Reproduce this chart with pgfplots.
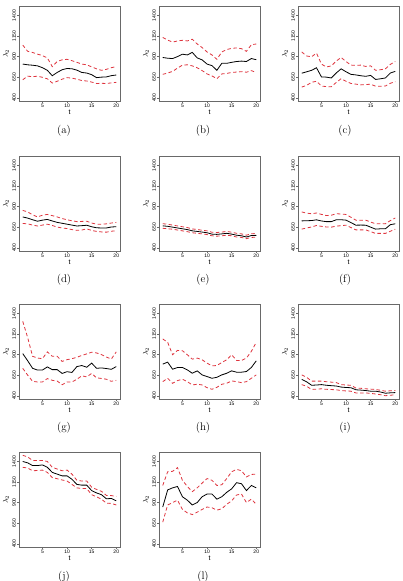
\documentclass[border=0pt]{standalone}
\usepackage{fontspec}
\setsansfont{Liberation Sans}
\usepackage{pgfplots}
\pgfplotsset{compat=1.18}
\usepackage{pgfplotstable}

\definecolor{bandred}{RGB}{222,52,62}
\definecolor{boxgray}{RGB}{105,105,105}

% columns: t, estimate, lower band, upper band
\pgfplotstableread{
t m lo hi
1 809 618 1040
2 800 662 964
3 795 655 950
4 787 662 930
5 765 648 911
6 733 630 884
7 667 578 778
8 707 600 840
9 740 625 860
10 755 644 867
11 752 638 850
12 735 625 830
13 707 609 809
14 700 603 800
15 680 590 775
16 644 573 751
17 650 575 733
18 653 573 745
19 668 580 765
20 676 587 778
}\tabA
\pgfplotstableread{
t m lo hi
1 889 684 1133
2 880 700 1100
3 876 720 1076
4 900 760 1090
5 929 796 1098
6 920 800 1090
7 951 787 1111
8 884 764 1053
9 860 730 1010
10 809 689 956
11 790 665 920
12 733 631 867
13 818 689 956
14 818 695 985
15 830 707 1000
16 840 712 1005
17 845 716 996
18 840 710 964
19 876 729 1044
20 862 707 1053
}\tabB
\pgfplotstableread{
t m lo hi
1 698 529 956
2 715 550 907
3 733 587 898
4 764 600 942
5 653 542 809
6 650 535 773
7 640 533 787
8 700 585 845
9 751 631 889
10 715 600 840
11 684 573 796
12 677 565 795
13 667 556 796
14 660 560 780
15 671 564 787
16 622 540 733
17 630 540 740
18 640 542 751
19 700 575 805
20 720 596 840
}\tabC
\pgfplotstableread{
t m lo hi
1 774 695 854
2 760 690 835
3 740 675 800
4 722 664 774
5 735 675 795
6 744 686 805
7 725 670 790
8 708 651 774
9 697 640 755
10 686 633 739
11 675 620 728
12 664 611 717
13 668 615 720
14 673 629 722
15 655 610 700
16 642 598 686
17 640 592 686
18 640 589 690
19 652 600 700
20 655 607 708
}\tabD
\pgfplotstableread{
t m lo hi
1 666 636 692
2 660 630 685
3 650 625 675
4 640 615 665
5 630 605 655
6 620 595 645
7 605 582 628
8 598 575 622
9 590 568 612
10 582 560 605
11 565 545 588
12 562 540 585
13 568 545 590
14 575 552 598
15 565 545 588
16 552 530 575
17 545 525 568
18 530 510 552
19 548 525 570
20 550 528 572
}\tabE
\pgfplotstableread{
t m lo hi
1 726 626 835
2 728 640 820
3 730 652 813
4 739 670 822
5 725 660 805
6 717 652 791
7 717 650 795
8 739 662 813
9 740 668 810
10 735 674 804
11 705 645 770
12 674 617 735
13 675 617 735
14 674 617 735
15 650 595 712
16 626 574 691
17 630 574 690
18 630 574 691
19 680 600 730
20 691 626 761
}\tabF
\pgfplotstableread{
t m lo hi
1 912 733 1304
2 825 650 1108
3 733 575 879
4 712 567 858
5 712 567 850
6 750 608 933
7 717 587 879
8 717 578 879
9 671 533 817
10 692 567 838
11 683 567 850
12 754 600 867
13 767 642 890
14 746 629 908
15 796 671 929
16 733 617 920
17 738 610 900
18 730 600 870
19 721 575 846
20 754 587 933
}\tabG
\pgfplotstableread{
t m lo hi
1 784 571 1090
2 808 612 1049
3 722 551 898
4 743 584 951
5 743 600 947
6 714 571 898
7 673 531 845
8 702 539 857
9 653 531 837
10 633 498 796
11 612 478 763
12 624 502 767
13 653 539 804
14 673 551 837
15 702 580 898
16 686 571 829
17 686 559 829
18 694 571 857
19 743 612 939
20 824 653 1049
}\tabH
\pgfplotstableread{
t m lo hi
1 598 535 653
2 569 514 624
3 527 476 577
4 530 480 577
5 535 484 577
6 527 478 570
7 522 475 565
8 518 472 560
9 505 463 535
10 500 458 530
11 497 455 527
12 472 434 493
13 468 434 490
14 463 434 484
15 455 428 480
16 455 421 476
17 445 412 466
18 430 400 455
19 435 405 460
20 438 413 463
}\tabI
\pgfplotstableread{
t m lo hi
1 1400 1329 1475
2 1383 1320 1455
3 1350 1287 1412
4 1350 1290 1412
5 1358 1295 1412
6 1329 1267 1400
7 1267 1204 1329
8 1246 1190 1308
9 1225 1175 1287
10 1225 1162 1295
11 1183 1121 1246
12 1121 1079 1171
13 1112 1071 1162
14 1112 1071 1162
15 1046 996 1087
16 1017 970 1060
17 996 942 1037
18 946 892 987
19 950 890 985
20 921 871 975
}\tabJ
\pgfplotstableread{
t m lo hi
1 846 662 1108
2 1054 871 1275
3 1079 900 1280
4 1096 929 1325
5 971 817 1171
6 929 775 1096
7 871 754 1033
8 900 783 1079
9 971 817 1137
10 1004 846 1192
11 1004 837 1171
12 942 808 1108
13 971 825 1117
14 1025 879 1192
15 1067 921 1275
16 1142 992 1304
17 1129 1004 1287
18 1046 900 1212
19 1108 942 1242
20 1079 879 1246
}\tabL

\pgfplotsset{
  lampanel/.style={
    scale only axis, width=101pt, height=95pt, anchor=north west,
    xmin=0.24, xmax=20.76, ymin=360, ymax=1515,
    xtick={5,10,15,20}, ytick={400,650,900,1150,1400},
    axis line style={boxgray, line width=0.5pt},
    tick style={boxgray, line width=0.4pt},
    tick align=outside, major tick length=2pt,
    xtick pos=lower, ytick pos=left,
    /pgf/number format/assume math mode=true,
    /pgf/number format/1000 sep={},
    ticklabel style={font=\sffamily\fontsize{5}{6}\selectfont, inner sep=1pt},
    yticklabel style={rotate=90, anchor=south},
    xlabel={t}, ylabel={$\lambda_2$},
    label style={font=\sffamily\fontsize{7}{8}\selectfont},
    xlabel style={at={(axis description cs:0.5,-0.115)}, anchor=center},
    ylabel style={at={(axis description cs:-0.13,0.5)}, anchor=center},
  },
  est/.style={black, line width=0.8pt},
  band/.style={bandred, line width=0.8pt, dash pattern=on 3.5pt off 2.5pt},
}

\newcommand{\lampanel}[3]{%
  \begin{axis}[lampanel, at={(#1,#2)}]
    \addplot[band] table[x=t, y=hi] {#3};
    \addplot[band] table[x=t, y=lo] {#3};
    \addplot[est]  table[x=t, y=m]  {#3};
  \end{axis}}

\begin{document}
\begin{tikzpicture}
  \useasboundingbox (0pt,0pt) rectangle (403pt,581pt);
  \lampanel{19pt}{575pt}{\tabA}
  \lampanel{159pt}{575pt}{\tabB}
  \lampanel{298pt}{575pt}{\tabC}
  \lampanel{19pt}{425pt}{\tabD}
  \lampanel{159pt}{425pt}{\tabE}
  \lampanel{298pt}{425pt}{\tabF}
  \lampanel{19pt}{277pt}{\tabG}
  \lampanel{159pt}{277pt}{\tabH}
  \lampanel{298pt}{277pt}{\tabI}
  \lampanel{19pt}{129pt}{\tabJ}
  \lampanel{159pt}{129pt}{\tabL}
  \begin{scope}[every node/.style={font=\fontsize{11}{12}\selectfont}]
    \node at (64pt,450pt) {(a)};
    \node at (203pt,450pt) {(b)};
    \node at (345pt,450pt) {(c)};
    \node at (64pt,301pt) {(d)};
    \node at (203pt,301pt) {(e)};
    \node at (345pt,301pt) {(f)};
    \node at (64pt,153pt) {(g)};
    \node at (203pt,153pt) {(h)};
    \node at (345pt,153pt) {(i)};
    \node at (64pt,4pt) {(j)};
    \node at (203pt,4pt) {(l)};
  \end{scope}
\end{tikzpicture}
\end{document}
